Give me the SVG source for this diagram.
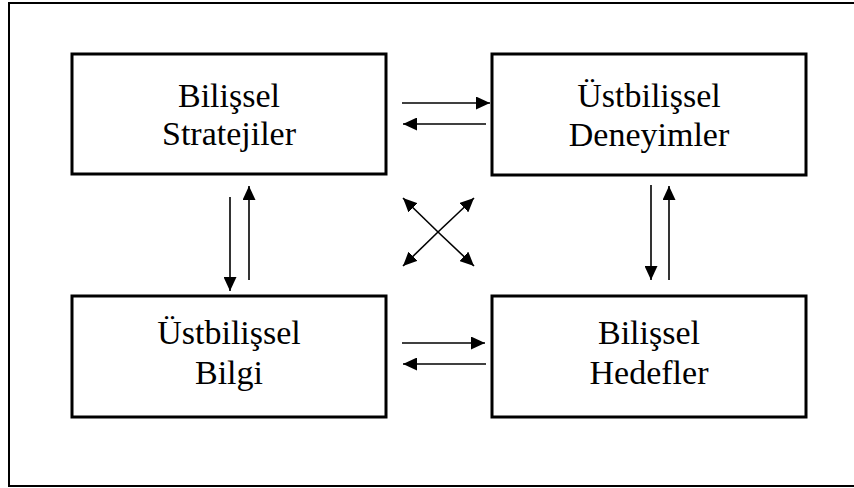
<svg xmlns="http://www.w3.org/2000/svg" width="854" height="488" viewBox="0 0 854 488">
<style>
.box{fill:#fff;stroke:#000;stroke-width:3}
.t{font-family:'Liberation Serif','Times New Roman',serif;font-size:34px;fill:#000;text-anchor:middle}
.c{stroke:#000;stroke-width:1.6;fill:none;marker-end:url(#ah)}
</style>
<defs>
<marker id="ah" viewBox="0 0 14 13" refX="14" refY="6.5" markerWidth="14" markerHeight="13" markerUnits="userSpaceOnUse" orient="auto">
<path d="M0,0 L14,6.5 L0,13 Z" fill="#000"/>
</marker>
</defs>
<rect width="854" height="488" fill="#fff"/>
<path d="M 860 3 H 9 V 486 H 860" fill="none" stroke="#000" stroke-width="2"/>
<g id="bilissel-stratejiler">
<rect class="box" x="72" y="54" width="314" height="120"/>
<text class="t" x="229" y="107">Bilişsel</text>
<text class="t" x="229" y="145">Stratejiler</text>
</g>
<g id="ustbilissel-deneyimler">
<rect class="box" x="492" y="54" width="314" height="121"/>
<text class="t" x="649" y="107">Üstbilişsel</text>
<text class="t" x="649" y="146">Deneyimler</text>
</g>
<g id="ustbilissel-bilgi">
<rect class="box" x="72" y="296" width="314" height="121"/>
<text class="t" x="229" y="344">Üstbilişsel</text>
<text class="t" x="229" y="384">Bilgi</text>
</g>
<g id="bilissel-hedefler">
<rect class="box" x="492" y="296" width="314" height="121"/>
<text class="t" x="649" y="344">Bilişsel</text>
<text class="t" x="649" y="384">Hedefler</text>
</g>
<g id="connectors">
<line class="c" x1="402" y1="103" x2="490" y2="103"/>
<line class="c" x1="486" y1="124" x2="403" y2="124"/>
<line class="c" x1="402" y1="343" x2="485" y2="343"/>
<line class="c" x1="486" y1="364" x2="403" y2="364"/>
<line class="c" x1="230" y1="197" x2="230" y2="291"/>
<line class="c" x1="249" y1="280" x2="249" y2="186"/>
<line class="c" x1="651" y1="185" x2="651" y2="280"/>
<line class="c" x1="669" y1="280" x2="669" y2="186"/>
<line class="c" x1="438" y1="232" x2="403" y2="198"/>
<line class="c" x1="438" y1="232" x2="474" y2="198"/>
<line class="c" x1="438" y1="232" x2="403" y2="266"/>
<line class="c" x1="438" y1="232" x2="474" y2="266"/>
</g>
</svg>
